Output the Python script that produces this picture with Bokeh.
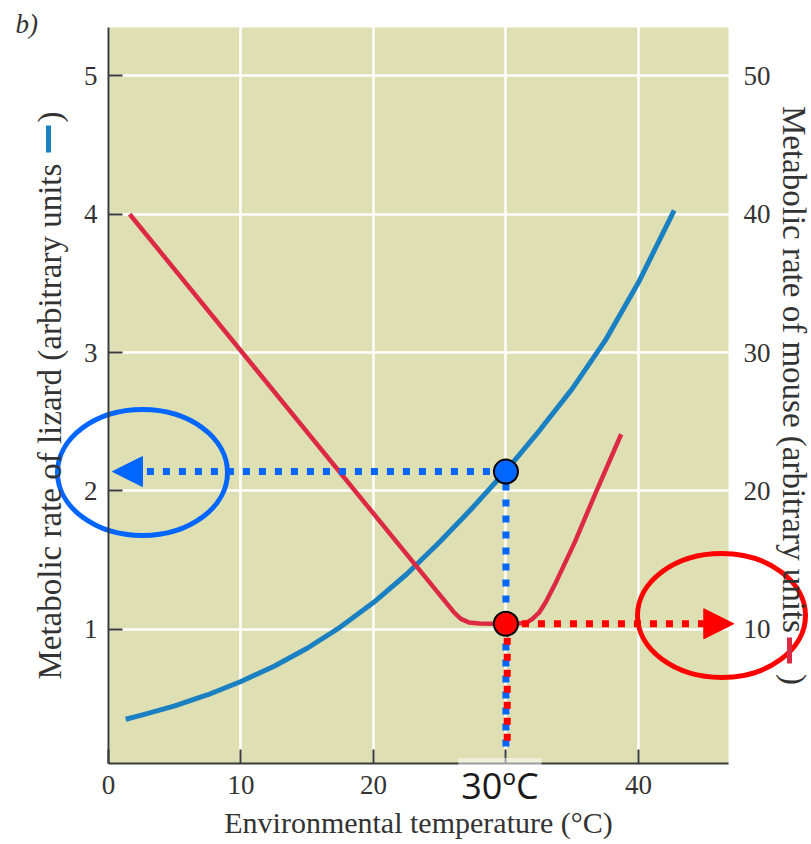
import numpy as np
from bokeh.plotting import figure
from bokeh.models import Range1d, LinearAxis, FixedTicker, Label, Arrow, NormalHead
from bokeh.embed import file_html
from bokeh.resources import INLINE

# ---------------- data ----------------
temp_ticks = [0, 10, 20, 30, 40]
lizard_ticks = [1, 2, 3, 4, 5]
mouse_ticks = [10, 20, 30, 40, 50]

# lizard (left axis, blue)
lizard_temp = [1.3, 2.5, 5.0, 7.5, 10.0, 12.5, 15.0, 17.5, 20.0, 22.5, 25.0, 27.5, 30.0,
               32.5, 35.0, 37.5, 40.0, 42.7]
lizard_rate = [0.35, 0.38, 0.447, 0.527, 0.623, 0.733, 0.863, 1.016, 1.193, 1.398, 1.631, 1.881, 2.146,
               2.433, 2.738, 3.088, 3.506, 4.028]

# mouse (right axis, red)
mouse_temp = [1.6, 26.1, 26.6, 27.2, 28.0, 29.0, 30.0, 31.0, 31.6, 32.0, 32.5, 33.0, 33.7, 35.2, 36.7, 38.7]
mouse_rate = [40.0, 11.2, 10.75, 10.5, 10.42, 10.4, 10.4, 10.42, 10.5, 10.75, 11.2, 11.95, 13.25, 16.3, 19.7, 24.1]

highlight_temp = 30.0
highlight_text = "30ºC"
lizard_at_highlight = 2.14
mouse_at_highlight = 10.4

temp_range = (0.0, 46.8)       # shaded data area, x
lizard_range = (0.03, 5.35)    # shaded data area, left axis
MOUSE_PER_LIZARD = 10.0        # right axis = 10 x left axis

guide_bottom = 0.15            # lower end of vertical dotted guides (lizard units)
lizard_arrow_tip = 0.3         # temperature where blue arrow ends
mouse_arrow_tip = 47.2         # temperature where red arrow ends

# ---------------- layout (pixels) ----------------
W, H = 811, 844
PAD_L, PAD_R, PAD_T, PAD_B = 108, 83, 27, 81

kx = (W - PAD_L - PAD_R) / (temp_range[1] - temp_range[0])
ky = (H - PAD_T - PAD_B) / (lizard_range[1] - lizard_range[0])
view_x = (temp_range[0] - PAD_L / kx, temp_range[1] + PAD_R / kx)
view_y = (lizard_range[0] - PAD_B / ky, lizard_range[1] + PAD_T / ky)


def px(sx):
    return view_x[0] + sx / kx


def py(sy):
    return view_y[1] - sy / ky


# ---------------- styling ----------------
BG = "#dedfb3"
BLUE_CURVE = "#1b80c2"
RED_CURVE = "#dc2a45"
BLUE_MARK = "#0066ff"
RED_MARK = "#ff0000"
TXT = "#333333"
SERIF = "Liberation Serif"

p = figure(width=W, height=H,
           x_range=Range1d(*view_x), y_range=Range1d(*view_y),
           output_backend="svg", toolbar_location=None,
           min_border=0, background_fill_color="white", border_fill_color="white",
           outline_line_color=None)

p.extra_y_ranges = {"mouse": Range1d(view_y[0] * MOUSE_PER_LIZARD, view_y[1] * MOUSE_PER_LIZARD)}

# shaded data area
p.quad(left=[temp_range[0]], right=[temp_range[1]], bottom=[lizard_range[0]], top=[lizard_range[1]],
       fill_color=BG, line_color=None, level="image")

# grids (white on white outside the shaded area)
p.xgrid.ticker = FixedTicker(ticks=temp_ticks)
p.ygrid.ticker = FixedTicker(ticks=lizard_ticks)
for g in (p.xgrid[0], p.ygrid[0]):
    g.grid_line_color = "white"
    g.grid_line_width = 2.5


def style_axis(ax):
    ax.axis_label_text_font = SERIF
    ax.axis_label_text_font_size = "33px"
    ax.axis_label_text_font_style = "normal"
    ax.axis_label_text_color = TXT
    ax.major_label_text_font = SERIF
    ax.major_label_text_font_size = "27px"
    ax.major_label_text_color = TXT
    ax.minor_tick_line_color = None
    ax.axis_line_color = "#3a3a3a"
    ax.axis_line_width = 2
    ax.major_tick_line_color = "#3a3a3a"
    ax.major_tick_line_width = 2
    ax.major_tick_in = 14
    ax.major_tick_out = 0


xa = p.xaxis[0]
xa.ticker = FixedTicker(ticks=temp_ticks)
xa.major_label_overrides = {highlight_temp: ""}   # replaced by the big highlight label
xa.fixed_location = lizard_range[0]
xa.bounds = temp_range
xa.axis_label = "Environmental temperature (°C)"
style_axis(xa)
xa.axis_label_text_font_size = "30px"
xa.major_label_standoff = 12
xa.axis_label_standoff = 9

ya = p.yaxis[0]
ya.ticker = FixedTicker(ticks=lizard_ticks)
ya.fixed_location = temp_range[0]
ya.bounds = lizard_range
ya.axis_label = "Metabolic rate of lizard (arbitrary units\u00a0\u00a0\u00a0\u00a0\u00a0)"
style_axis(ya)
ya.major_label_standoff = 11
ya.axis_label_standoff = 13

ra = LinearAxis(y_range_name="mouse", ticker=FixedTicker(ticks=mouse_ticks),
                fixed_location=temp_range[1],
                bounds=(lizard_range[0] * MOUSE_PER_LIZARD, lizard_range[1] * MOUSE_PER_LIZARD),
                axis_label="Metabolic rate of mouse (arbitrary units\u00a0\u00a0\u00a0\u00a0\u00a0)")
style_axis(ra)
ra.axis_line_color = None
ra.major_tick_line_color = None
ra.major_label_standoff = 15
ra.axis_label_standoff = 2
p.add_layout(ra, "right")

# curves
p.line(lizard_temp, lizard_rate, line_color=BLUE_CURVE, line_width=5, line_join="round")
p.line(mouse_temp, mouse_rate, line_color=RED_CURVE, line_width=4.5, line_join="round",
       y_range_name="mouse")

# vertical dotted guides
p.line([highlight_temp, highlight_temp], [lizard_at_highlight, guide_bottom],
       line_color=BLUE_MARK, line_width=7, line_dash="7 9", line_dash_offset=4)
p.line([highlight_temp + 0.1, highlight_temp + 0.1],
       [mouse_at_highlight, guide_bottom * MOUSE_PER_LIZARD], y_range_name="mouse",
       line_color=RED_MARK, line_width=7, line_dash="7 9", line_dash_offset=2)

# horizontal dotted arrows
mouse_y = mouse_at_highlight / MOUSE_PER_LIZARD
p.add_layout(Arrow(end=NormalHead(size=30, fill_color=BLUE_MARK, line_color=BLUE_MARK, line_width=1),
                   x_start=highlight_temp, y_start=lizard_at_highlight,
                   x_end=lizard_arrow_tip, y_end=lizard_at_highlight,
                   line_color=BLUE_MARK, line_width=7, line_dash="7 9"))
p.add_layout(Arrow(end=NormalHead(size=30, fill_color=RED_MARK, line_color=RED_MARK, line_width=1),
                   x_start=highlight_temp, y_start=mouse_y,
                   x_end=mouse_arrow_tip, y_end=mouse_y,
                   line_color=RED_MARK, line_width=7, line_dash="7 9"))

# highlight points
p.scatter([highlight_temp], [lizard_at_highlight], size=24, fill_color=BLUE_MARK,
          line_color="black", line_width=2, level="overlay")
p.scatter([highlight_temp], [mouse_at_highlight], size=24, fill_color=RED_MARK,
          line_color="black", line_width=2, level="overlay", y_range_name="mouse")

# call-out ellipses (centre / size in screen pixels)
p.ellipse(x=[px(142)], y=[py(472)], width=[170 / kx], height=[126 / ky],
          fill_color=None, line_color=BLUE_MARK, line_width=5)
p.ellipse(x=[px(721)], y=[py(615)], width=[168 / kx], height=[124 / ky],
          fill_color=None, line_color=RED_MARK, line_width=5)

# colour swatches inside the axis titles
p.line([px(48), px(48)], [py(125), py(152)], line_color=BLUE_CURVE, line_width=5)
p.line([px(789), px(789)], [py(637), py(663)], line_color=RED_CURVE, line_width=5)

# texts
p.add_layout(Label(x=px(15), y=py(23), text="b)", text_font=SERIF, text_font_style="italic",
                   text_font_size="27px", text_color=TXT, text_baseline="middle"))
p.add_layout(Label(x=highlight_temp, y=py(785), x_offset=-6, text=highlight_text, text_font="Open Sans",
                   text_font_size="36px", text_color="#1a1a1a", text_align="center",
                   text_baseline="middle", background_fill_color="white",
                   background_fill_alpha=0.5, padding=3))

open("out.html", "w").write(file_html(p, INLINE))
